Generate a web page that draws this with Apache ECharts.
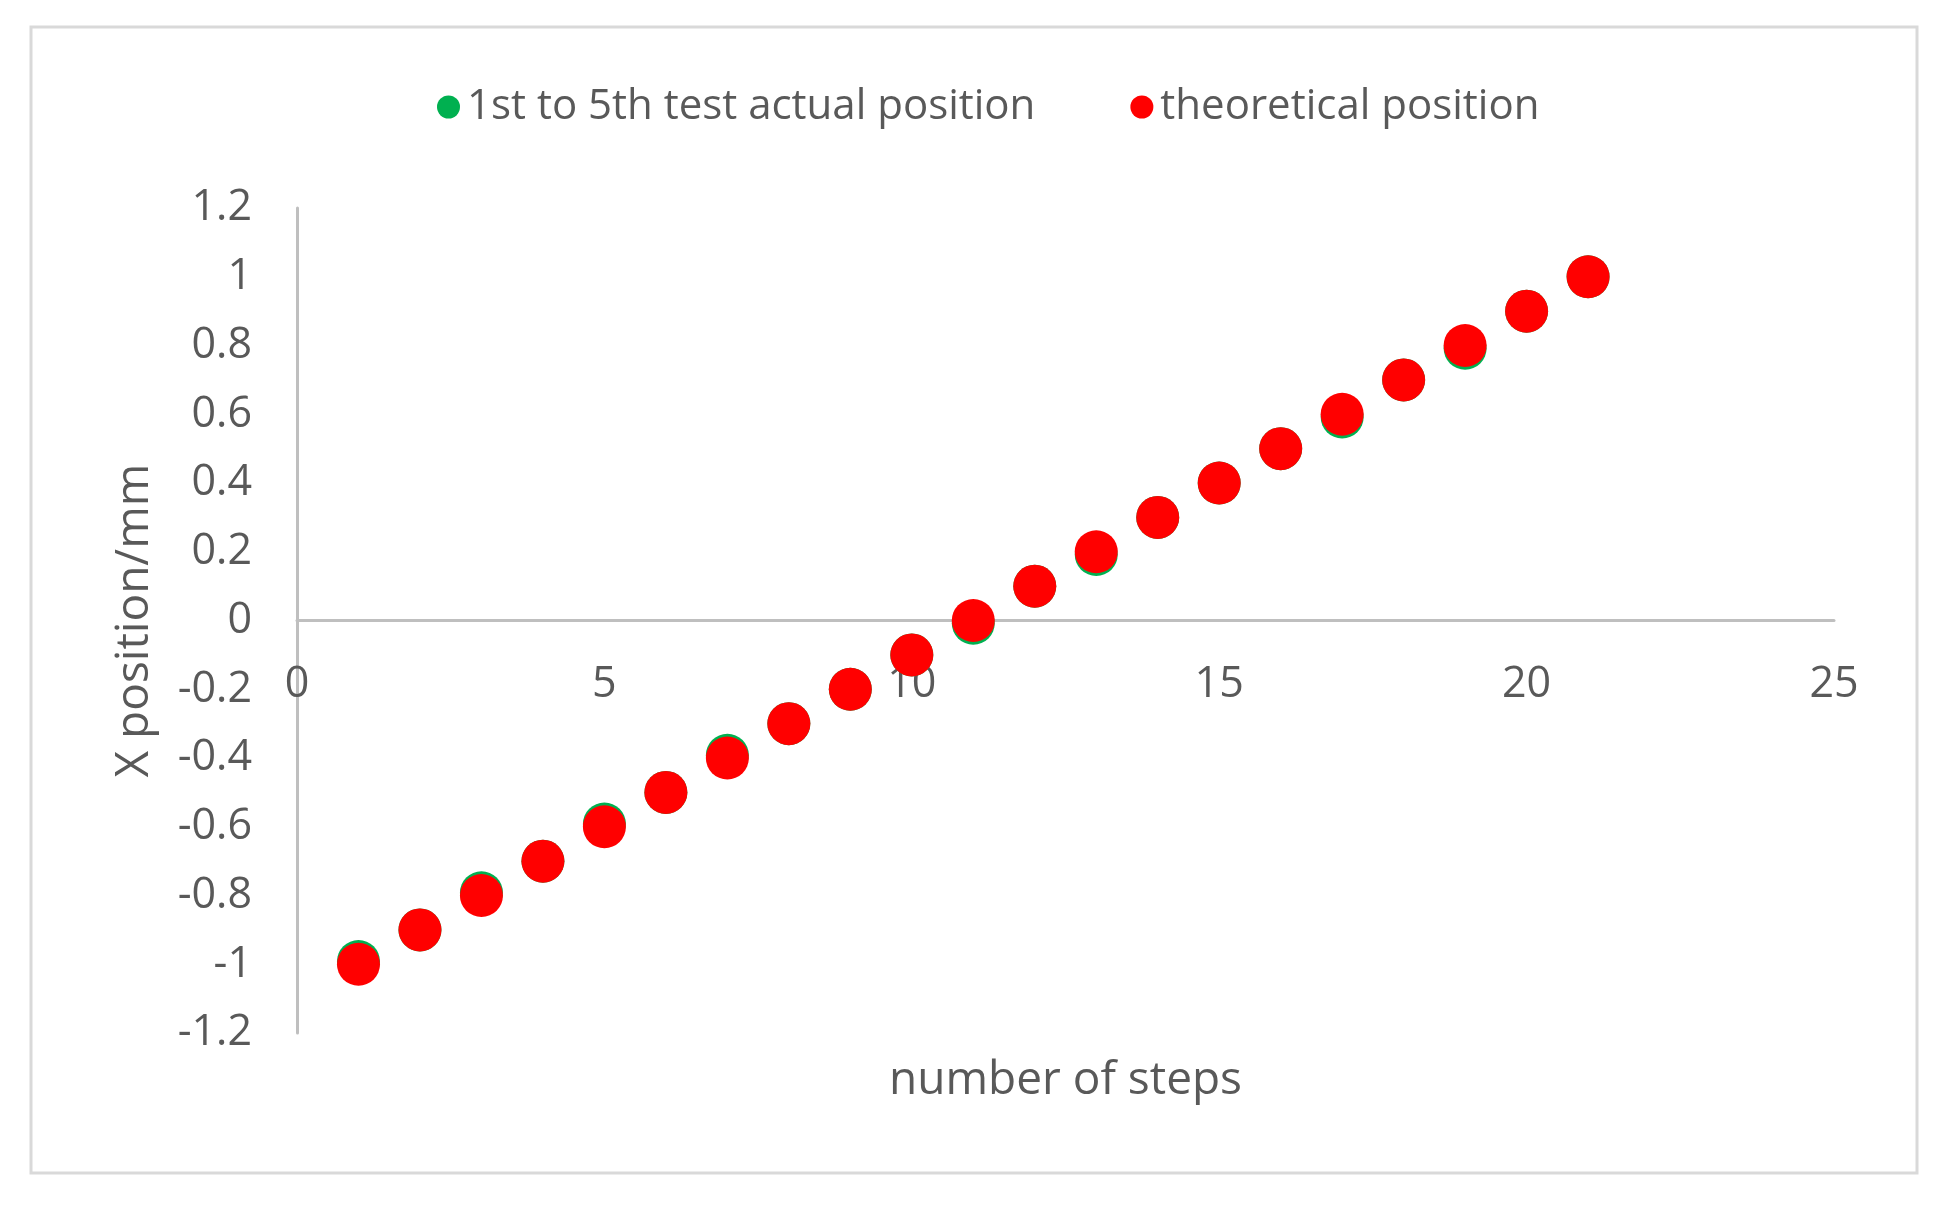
<!DOCTYPE html>
<html>
<head>
<meta charset="utf-8">
<script src="https://cdn.jsdelivr.net/npm/echarts@6/dist/echarts.min.js"></script>
<style>html,body{margin:0;padding:0;background:#fff;}#c{width:1943px;height:1207px;}</style>
</head>
<body>
<div id="c"></div>
<script>
const steps = [1,2,3,4,5,6,7,8,9,10,11,12,13,14,15,16,17,18,19,20,21];
const actualPosition = [-0.992,-0.9,-0.792,-0.7,-0.592,-0.5,-0.392,-0.3,-0.2,-0.1,-0.008,0.1,0.192,0.3,0.4,0.5,0.592,0.7,0.792,0.9,1.0];
const theoreticalPosition = [-1.0,-0.9,-0.8,-0.7,-0.6,-0.5,-0.4,-0.3,-0.2,-0.1,0.0,0.1,0.2,0.3,0.4,0.5,0.6,0.7,0.8,0.9,1.0];
const seriesNames = ['1st to 5th test actual position','theoretical position'];

const FONT = 'Open Sans';
const TXT = '#595959';
const GRID_TOP = 208, GRID_BOTTOM = 174, H = 1207;
const zeroOffset = -((H - GRID_BOTTOM) - (GRID_TOP + (H - GRID_BOTTOM)) / 2);
const chart = echarts.init(document.getElementById('c'), null, {renderer:'canvas'});
chart.setOption({
  backgroundColor:'#ffffff',
  animation:false,
  textStyle:{fontFamily:FONT},
  graphic:[{type:'rect',shape:{x:31,y:27,width:1886,height:1146},style:{fill:'none',stroke:'#d9d9d9',lineWidth:3},silent:true}],
  legend:{
    top:81, left:432,
    itemWidth:23, itemHeight:23, itemGap:95,
    icon:'circle',
    textStyle:{fontSize:42,color:TXT,fontFamily:FONT,padding:[0,0,0,2]},
    data:seriesNames
  },
  grid:{left:297,right:109,top:GRID_TOP,bottom:GRID_BOTTOM,containLabel:false,outerBoundsMode:'none'},
  xAxis:{
    type:'value',min:0,max:25,interval:5,position:'bottom',offset:zeroOffset,
    axisLine:{onZero:false,lineStyle:{color:'#bfbfbf',width:3}},
    axisTick:{show:false},splitLine:{show:false},
    axisLabel:{fontSize:43,color:TXT,margin:43,fontFamily:FONT},
    name:'number of steps',nameLocation:'middle',nameGap:437,
    nameTextStyle:{fontSize:46,color:TXT,fontFamily:FONT,verticalAlign:'top'}
  },
  yAxis:{
    type:'value',min:-1.2,max:1.2,interval:0.2,
    axisLine:{show:true,onZero:false,lineStyle:{color:'#bfbfbf',width:3}},
    axisTick:{show:false},splitLine:{show:false},
    axisLabel:{fontSize:43,color:TXT,margin:45,fontFamily:FONT,padding:[7,0,0,0],
      formatter:v=>String(Math.round(v*10)/10)},
    name:'X position/mm',nameLocation:'middle',nameGap:139,
    nameTextStyle:{fontSize:46,color:TXT,fontFamily:FONT}
  },
  series:[
    {name:seriesNames[0],type:'scatter',symbol:'circle',symbolSize:43,
     itemStyle:{color:'#00b050',opacity:1},z:2,
     data:steps.map((s,i)=>[s,actualPosition[i]])},
    {name:seriesNames[1],type:'scatter',symbol:'circle',symbolSize:43,
     itemStyle:{color:'#ff0000',opacity:1},z:3,
     data:steps.map((s,i)=>[s,theoreticalPosition[i]])}
  ]
});
</script>
</body>
</html>
